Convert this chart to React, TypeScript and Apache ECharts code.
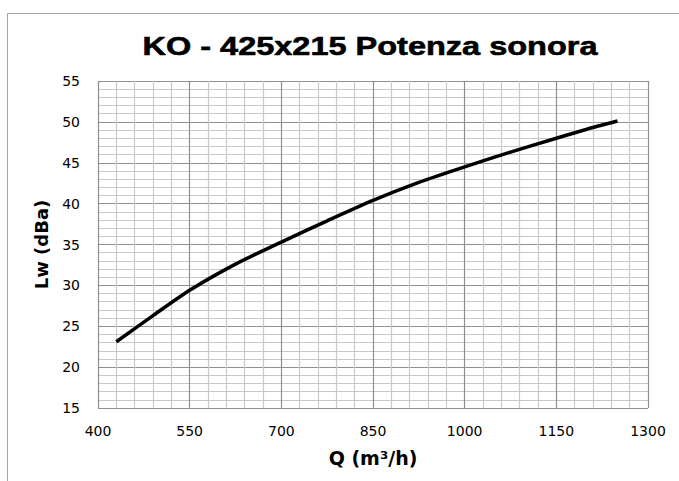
import React, { useEffect, useRef } from "react";
import * as echarts from "echarts";

const titleText = "KO - 425x215 Potenza sonora";
const xName = "Q (m³/h)";
const yName = "Lw (dBa)";
const flowQ = [430, 490, 550, 625, 700, 775, 850, 925, 1000, 1075, 1150, 1200, 1250];
const soundLw = [23.1, 26.3, 29.4, 32.6, 35.3, 37.9, 40.4, 42.6, 44.5, 46.3, 48.0, 49.1, 50.1];
const xTicks = { min: 400, max: 1300, step: 150 };
const yTicks = { min: 15, max: 55, step: 5 };

export default function App() {
  const ref = useRef<HTMLDivElement>(null);
  useEffect(() => {
    if (!ref.current) return;
    const chart = echarts.init(ref.current, undefined, { renderer: "svg" });
    const data = flowQ.map((q, i) => [q, soundLw[i]]);
    chart.setOption({
      animation: false,
      backgroundColor: "#ffffff",
      grid: { left: 98, right: 31, top: 81, bottom: 73, containLabel: false },
      graphic: [
        { type: "line", shape: { x1: 7.5, y1: 13.5, x2: 679, y2: 13.5 }, style: { stroke: "#a6a6a6", lineWidth: 1 } },
        { type: "line", shape: { x1: 7.5, y1: 13.5, x2: 7.5, y2: 481 }, style: { stroke: "#a6a6a6", lineWidth: 1 } },
        {
          type: "text",
          x: 370,
          y: 46,
          scaleX: 1.25,
          scaleY: 1,
          style: {
            text: titleText,
            x: 0,
            y: 0,
            align: "center",
            verticalAlign: "middle",
            fontFamily: "Liberation Sans",
            fontWeight: "bold",
            fontSize: 26,
            fill: "#000000",
            stroke: "#000000",
            lineWidth: 0.6,
          },
        },
      ],
      xAxis: {
        type: "value",
        min: xTicks.min,
        max: xTicks.max,
        interval: xTicks.step,
        name: xName,
        nameLocation: "middle",
        nameGap: 40,
        nameTextStyle: { fontFamily: "DejaVu Sans", fontWeight: "bold", fontSize: 19, color: "#000" },
        axisLine: { show: false },
        axisTick: { show: false },
        axisLabel: { margin: 16, fontFamily: "DejaVu Sans", fontSize: 14, color: "#000", formatter: (v: number) => String(v) },
        splitLine: { show: true, lineStyle: { color: "#8f8f8f", width: 1.2 } },
        minorTick: { show: false, splitNumber: 5 },
        minorSplitLine: { show: true, lineStyle: { color: "#c8c8c8", width: 1.2 } },
      },
      yAxis: {
        type: "value",
        min: yTicks.min,
        max: yTicks.max,
        interval: yTicks.step,
        name: yName,
        nameLocation: "middle",
        nameGap: 48,
        nameRotate: 90,
        nameTextStyle: { fontFamily: "DejaVu Sans", fontWeight: "bold", fontSize: 18, color: "#000" },
        axisLine: { show: false },
        axisTick: { show: false },
        axisLabel: { margin: 18, fontFamily: "DejaVu Sans", fontSize: 14, color: "#000", formatter: (v: number) => String(v) },
        splitLine: { show: true, lineStyle: { color: "#8f8f8f", width: 1.2 } },
        minorTick: { show: false, splitNumber: 5 },
        minorSplitLine: { show: true, lineStyle: { color: "#c8c8c8", width: 1.2 } },
      },
      series: [
        {
          type: "line",
          data,
          smooth: 0.25,
          showSymbol: false,
          symbol: "none",
          lineStyle: { color: "#000000", width: 3.5 },
          z: 5,
        },
      ],
    });
    return () => chart.dispose();
  }, []);
  return (
    <div
      ref={ref}
      style={{ position: "absolute", left: 0, top: 0, width: 679, height: 481 }}
    />
  );
}
